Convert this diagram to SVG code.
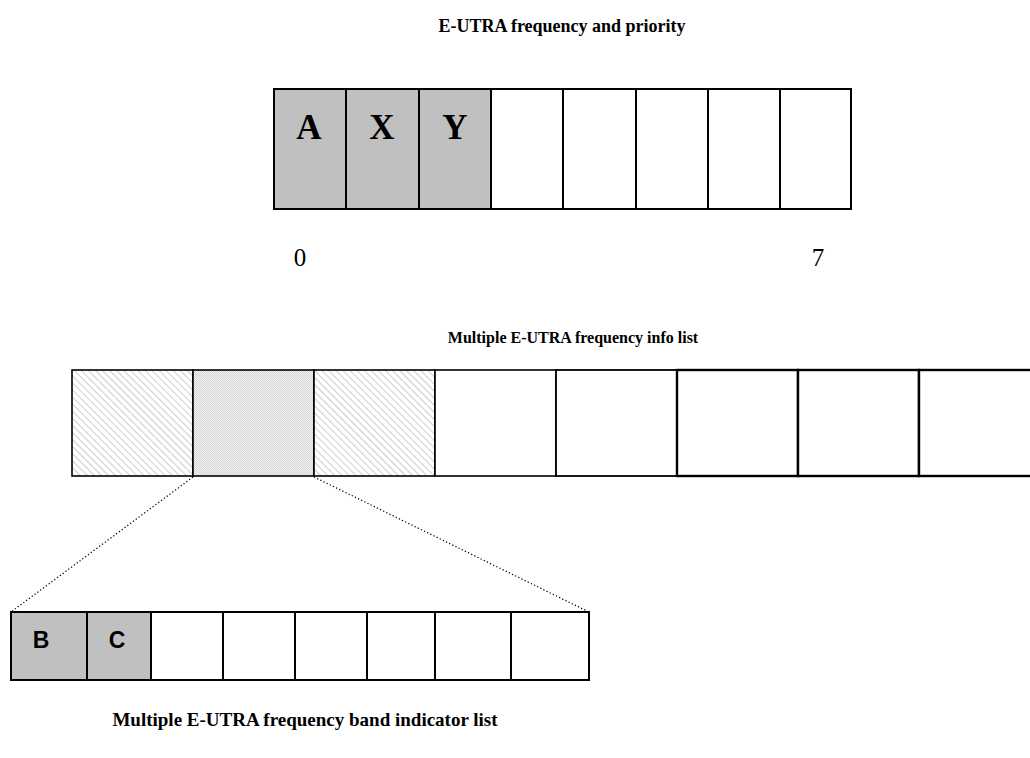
<svg xmlns="http://www.w3.org/2000/svg" width="1030" height="758" viewBox="0 0 1030 758">
<style>
.title{font-family:"Liberation Serif","Times New Roman",serif;font-weight:bold;fill:#000;text-anchor:middle}
.big{font-family:"Liberation Serif","Times New Roman",serif;font-weight:bold;font-size:35px;text-anchor:middle}
.num{font-family:"Liberation Serif","Times New Roman",serif;font-size:25px;text-anchor:middle}
.sans{font-family:"Liberation Sans",Arial,sans-serif;font-weight:bold;font-size:23px;text-anchor:middle}
.cell{stroke:#000;stroke-width:2;fill:#fff}
.grey{fill:#c0c0c0}
.hatch{fill:url(#hatch)}
.dots{fill:url(#dots)}
.conn{stroke:#000;stroke-width:1.2;stroke-dasharray:1.3 2.2;fill:none}
</style>
<defs>
<pattern id="hatch" width="5" height="5" patternUnits="userSpaceOnUse" patternTransform="rotate(-45)">
<rect width="5" height="5" fill="#ffffff"/>
<line x1="0" y1="0" x2="0" y2="5" stroke="#c8c8c8" stroke-width="1.8"/>
</pattern>
<pattern id="dots" width="2" height="2" patternUnits="userSpaceOnUse">
<rect width="2" height="2" fill="#f2f2f2"/>
<rect width="1" height="1" fill="#d4d4d4"/>
<rect x="1" y="1" width="1" height="1" fill="#d4d4d4"/>
</pattern>
</defs>
<rect width="1030" height="758" fill="#fff"/>

<g id="title-top"><text class="title" x="562" y="32" font-size="18">E-UTRA frequency and priority</text></g>

<g id="priority-list">
<rect class="cell grey" x="274" y="89" width="72" height="120"/>
<rect class="cell grey" x="346" y="89" width="73" height="120"/>
<rect class="cell grey" x="419" y="89" width="72" height="120"/>
<rect class="cell" x="491" y="89" width="72" height="120"/>
<rect class="cell" x="563" y="89" width="73" height="120"/>
<rect class="cell" x="636" y="89" width="72" height="120"/>
<rect class="cell" x="708" y="89" width="72" height="120"/>
<rect class="cell" x="780" y="89" width="71" height="120"/>
<text class="big" x="309" y="139">A</text>
<text class="big" x="382" y="139">X</text>
<text class="big" x="455" y="139">Y</text>
</g>

<g id="index-labels">
<text class="num" x="300" y="266">0</text>
<text class="num" x="818" y="266">7</text>
</g>

<g id="title-mid"><text class="title" x="573" y="343" font-size="16">Multiple E-UTRA frequency info list</text></g>

<g id="freq-info-list">
<rect class="cell hatch" x="72" y="370" width="121" height="106" style="stroke-width:1.6"/>
<rect class="cell dots" x="193" y="370" width="121" height="106" style="stroke-width:1.6"/>
<rect class="cell hatch" x="314" y="370" width="121" height="106" style="stroke-width:1.6"/>
<rect class="cell" x="435" y="370" width="121" height="106" style="stroke-width:1.6"/>
<rect class="cell" x="556" y="370" width="121" height="106" style="stroke-width:1.8"/>
<rect class="cell" x="677" y="370" width="121" height="106" style="stroke-width:2.4"/>
<rect class="cell" x="798" y="370" width="121" height="106" style="stroke-width:2.4"/>
<rect class="cell" x="919" y="370" width="121" height="106" style="stroke-width:2.4"/>
</g>

<g id="connectors">
<line class="conn" x1="193" y1="477" x2="11" y2="612"/>
<line class="conn" x1="314" y1="477" x2="589" y2="612"/>
</g>

<g id="band-indicator-list">
<rect class="cell grey" x="11" y="612" width="76" height="68"/>
<rect class="cell grey" x="87" y="612" width="64" height="68"/>
<rect class="cell" x="151" y="612" width="72" height="68"/>
<rect class="cell" x="223" y="612" width="72" height="68"/>
<rect class="cell" x="295" y="612" width="72" height="68"/>
<rect class="cell" x="367" y="612" width="68" height="68"/>
<rect class="cell" x="435" y="612" width="76" height="68"/>
<rect class="cell" x="511" y="612" width="78" height="68"/>
<text class="sans" x="41" y="648">B</text>
<text class="sans" x="117" y="648">C</text>
</g>

<g id="title-bottom"><text class="title" x="305" y="726" font-size="19">Multiple E-UTRA frequency band indicator list</text></g>
</svg>
